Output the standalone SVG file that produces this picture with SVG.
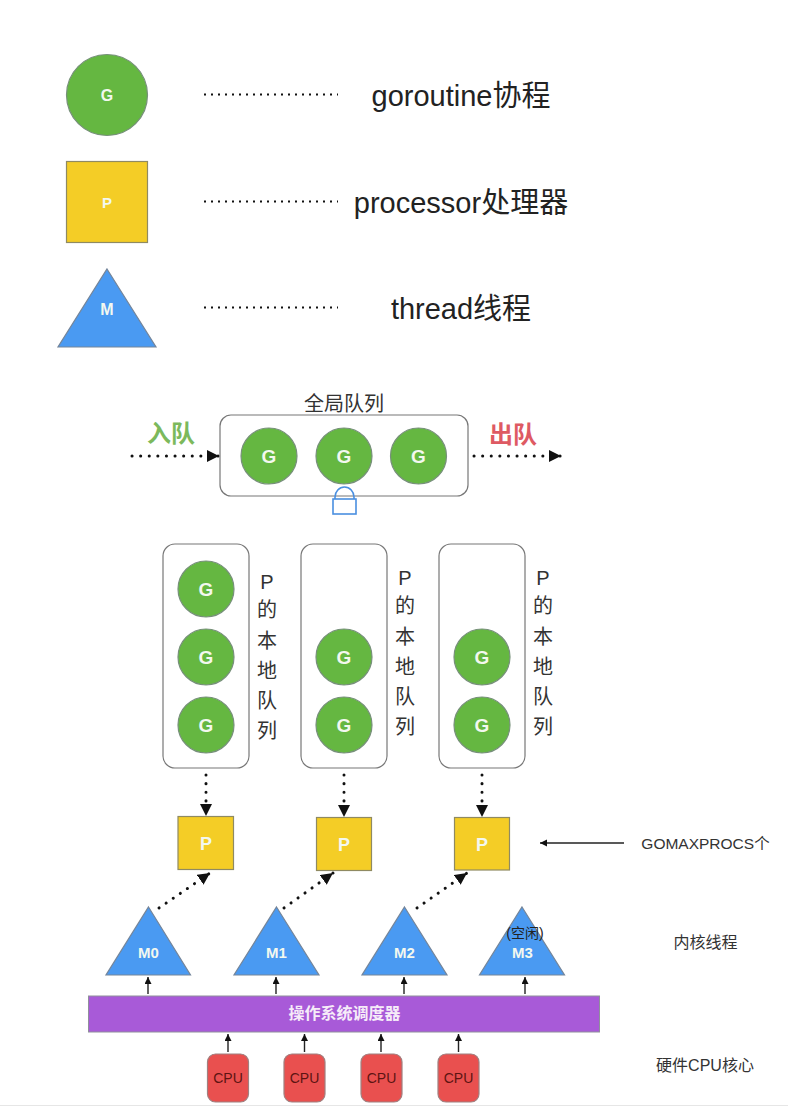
<svg xmlns="http://www.w3.org/2000/svg" width="788" height="1111" viewBox="0 0 788 1111">
<style>
text{font-family:"Liberation Sans","Noto Sans CJK SC",sans-serif;text-anchor:middle}
.g{fill:#65b741;stroke:#77907a;stroke-width:1.2}
.p{fill:#f4cd26;stroke:#8f8a62;stroke-width:1.2}
.m{fill:#4a9af2;stroke:#74859a;stroke-width:1.2}
.w{fill:#f3f8ef;font-weight:700}
.q{fill:#fff;stroke:#777;stroke-width:1.2}
.big{font-size:29px;fill:#222}
.v{font-size:20px;fill:#333}
.s{font-size:16px;fill:#333}
.dot{fill:none;stroke:#111;stroke-width:2;stroke-dasharray:2 5}
.dotb{fill:none;stroke:#111;stroke-width:3;stroke-linecap:round;stroke-dasharray:.1 8.500;marker-end:url(#big)}
.thin{fill:none;stroke:#222;stroke-width:1.4;marker-end:url(#small)}
.cpu{fill:#e9504f;stroke:#a08080;stroke-width:1.2}
.ct{font-size:14px;fill:#5c1412}
</style>
<defs>
<marker id="big" markerUnits="userSpaceOnUse" markerWidth="14" markerHeight="14" refX="12" refY="6" orient="auto"><path d="M0 0L12 6L0 12Z" fill="#111"/></marker>
<marker id="small" markerUnits="userSpaceOnUse" markerWidth="8" markerHeight="8" refX="7" refY="3.500" orient="auto"><path d="M0 0L7 3.500L0 7Z" fill="#111"/></marker>
</defs>
<rect width="788" height="1111" fill="#fff"/>
<path d="M0 1105.500H788" stroke="#e6e6e6" stroke-width="1"/>

<g id="connectors">
<path class="dot" d="M204 94.500H338M204 201.500H338M204 307.500H338"/>
<path class="dotb" d="M132 456H219"/>
<path class="dotb" d="M474 456H561"/>
<path class="dotb" d="M206 775V816"/>
<path class="dotb" d="M344 775V817"/>
<path class="dotb" d="M482 775V817"/>
<path class="dotb" d="M159 908L210 873"/>
<path class="dotb" d="M284 908L333 873"/>
<path class="dotb" d="M417 908L467 873"/>
<path class="thin" d="M624 843H540"/>
<path class="thin" d="M148 994V977"/>
<path class="thin" d="M276 994V977"/>
<path class="thin" d="M404 994V977"/>
<path class="thin" d="M525 994V977"/>
<path class="thin" d="M228 1052V1034"/>
<path class="thin" d="M304.500 1052V1034"/>
<path class="thin" d="M381 1052V1034"/>
<path class="thin" d="M458.500 1052V1034"/>
</g>

<g id="legend-g"><circle class="g" cx="107" cy="95" r="40.500"/><text class="w" x="107" y="101" font-size="16">G</text></g>
<g id="legend-p"><rect class="p" x="66.500" y="161.500" width="81" height="81"/><text class="w" x="107" y="208" font-size="15">P</text></g>
<g id="legend-m"><path class="m" d="M107 269L156 347H58Z"/><text class="w" x="107" y="315" font-size="16">M</text></g>
<g id="legend-g-label"><text class="big" x="461" y="106">goroutine协程</text></g>
<g id="legend-p-label"><text class="big" x="461" y="213">processor处理器</text></g>
<g id="legend-m-label"><text class="big" x="461" y="319">thread线程</text></g>

<g id="global-queue">
<rect class="q" x="220" y="415" width="248" height="81" rx="11"/>
<text x="344" y="411" font-size="20" fill="#333">全局队列</text>
<circle class="g" cx="269" cy="456" r="28"/><text class="w" x="269" y="463" font-size="19">G</text>
<circle class="g" cx="344" cy="456" r="28"/><text class="w" x="344" y="463" font-size="19">G</text>
<circle class="g" cx="418.500" cy="456" r="28"/><text class="w" x="418.500" y="463" font-size="19">G</text>
</g>
<g id="enqueue"><text x="171" y="442" font-size="24" font-weight="700" fill="#7cb95c">入队</text></g>
<g id="dequeue"><text x="513" y="443" font-size="24" font-weight="700" fill="#de5a63">出队</text></g>
<g id="lock" fill="none" stroke="#4a8fe0" stroke-width="1.600"><path d="M335 499V497A9.500 10 0 0 1 354 497V499"/><rect x="333" y="499" width="23" height="15"/></g>

<g id="queue-0">
<rect class="q" x="163" y="544" width="86" height="224" rx="12"/>
<circle class="g" cx="206" cy="589" r="28"/><text class="w" x="206" y="596" font-size="19">G</text>
<circle class="g" cx="206" cy="657" r="28"/><text class="w" x="206" y="664" font-size="19">G</text>
<circle class="g" cx="206" cy="725" r="28"/><text class="w" x="206" y="732" font-size="19">G</text>
<g class="v"><text x="267" y="589">P</text><text x="267" y="617">的</text><text x="267" y="648">本</text><text x="267" y="678">地</text><text x="267" y="708">队</text><text x="267" y="738">列</text></g>
</g>
<g id="queue-1">
<rect class="q" x="301" y="544" width="86" height="224" rx="12"/>
<circle class="g" cx="344" cy="657" r="28"/><text class="w" x="344" y="664" font-size="19">G</text>
<circle class="g" cx="344" cy="725" r="28"/><text class="w" x="344" y="732" font-size="19">G</text>
<g class="v"><text x="405" y="585">P</text><text x="405" y="613">的</text><text x="405" y="644">本</text><text x="405" y="674">地</text><text x="405" y="704">队</text><text x="405" y="734">列</text></g>
</g>
<g id="queue-2">
<rect class="q" x="439" y="544" width="86" height="224" rx="12"/>
<circle class="g" cx="482" cy="657" r="28"/><text class="w" x="482" y="664" font-size="19">G</text>
<circle class="g" cx="482" cy="725" r="28"/><text class="w" x="482" y="732" font-size="19">G</text>
<g class="v"><text x="543" y="585">P</text><text x="543" y="613">的</text><text x="543" y="644">本</text><text x="543" y="674">地</text><text x="543" y="704">队</text><text x="543" y="734">列</text></g>
</g>

<g id="p0"><rect class="p" x="178" y="816.500" width="55.500" height="53"/><text class="w" x="206" y="850" font-size="18">P</text></g>
<g id="p1"><rect class="p" x="316.500" y="817.500" width="55" height="53"/><text class="w" x="344" y="851" font-size="18">P</text></g>
<g id="p2"><rect class="p" x="454.500" y="817.500" width="55" height="52.500"/><text class="w" x="482" y="851" font-size="18">P</text></g>
<g id="gomaxprocs"><text class="s" x="705.500" y="849" style="font-size:15.500px">GOMAXPROCS个</text></g>

<g id="m0"><path class="m" d="M148.500 907L190.500 975H106Z"/><text class="w" x="148.500" y="958" font-size="15">M0</text></g>
<g id="m1"><path class="m" d="M276.500 907L319 975H234Z"/><text class="w" x="276.500" y="958" font-size="15">M1</text></g>
<g id="m2"><path class="m" d="M404.500 907L447 975H362Z"/><text class="w" x="404.500" y="958" font-size="15">M2</text></g>
<g id="m3"><path class="m" d="M522 907L564.500 975H479.500Z"/><text class="w" x="522.500" y="958" font-size="15">M3</text><text x="525" y="938" font-size="14" fill="#222">(空闲)</text></g>
<g id="kernel-label"><text class="s" x="705.500" y="948">内核线程</text></g>

<g id="scheduler"><rect x="88.500" y="996" width="511" height="36" fill="#a85ad8" stroke="#8f8f9c" stroke-width="1"/><text x="344.500" y="1019" font-size="16" font-weight="700" fill="#f6ecf8">操作系统调度器</text></g>

<g id="cpu0"><rect class="cpu" x="207.500" y="1054" width="41" height="48" rx="8"/><text class="ct" x="228" y="1083">CPU</text></g>
<g id="cpu1"><rect class="cpu" x="284" y="1054" width="41" height="48" rx="8"/><text class="ct" x="304.500" y="1083">CPU</text></g>
<g id="cpu2"><rect class="cpu" x="361" y="1054" width="41" height="48" rx="8"/><text class="ct" x="381.500" y="1083">CPU</text></g>
<g id="cpu3"><rect class="cpu" x="438" y="1054" width="41" height="48" rx="8"/><text class="ct" x="458.500" y="1083">CPU</text></g>
<g id="cpu-label"><text class="s" x="705" y="1071">硬件CPU核心</text></g>
</svg>
